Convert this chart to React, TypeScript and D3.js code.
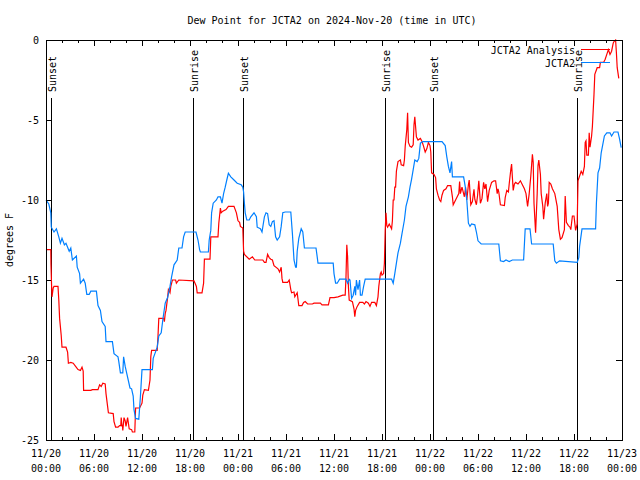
import React from "react";
import * as d3 from "d3";

const title = "Dew Point for JCTA2 on 2024-Nov-20 (time in UTC)";
const yLabel = "degrees F";
const startTime = Date.UTC(2024, 10, 20, 0, 0);
const hoursSpan = 72;
const yTicks = [0, -5, -10, -15, -20, -25];

const sunEvents: [number, string][] = [
  [0.68, "Sunset"], [18.42, "Sunrise"], [24.58, "Sunset"],
  [42.42, "Sunrise"], [48.42, "Sunset"], [66.42, "Sunrise"],
];

const seriesNames = ["JCTA2 Analysis", "JCTA2"];
const seriesColors = ["#ff0000", "#0080ff"];

const analysis: [number, number][] = [
  [0,-13.1],[0.6,-13.1],[0.62,-14.0],[0.7,-15.4],[0.75,-16.05],[0.9,-15.5],[1.0,-15.4],[1.5,-15.4],[1.6,-16.25],[1.7,-17.4],[1.9,-18.45],[2.0,-19.2],[2.5,-19.2],[2.7,-19.5],[2.8,-20.2],[3.1,-20.15],[3.4,-20.2],[3.7,-20.4],[4.0,-20.6],[4.3,-20.65],[4.5,-20.45],[4.65,-20.7],[4.7,-21.9],[5.6,-21.9],[5.8,-21.85],[6.5,-21.85],[6.7,-21.55],[6.9,-21.65],[7.1,-21.45],[7.4,-21.5],[7.5,-22.1],[7.7,-22.9],[7.8,-23.3],[8.4,-23.35],[8.5,-23.85],[8.7,-24.2],[9.0,-24.2],[9.2,-24.1],[9.35,-24.1],[9.4,-23.6],[9.5,-24.15],[9.55,-24.05],[9.6,-24.4],[9.75,-23.6],[9.9,-23.8],[10.0,-24.15],[10.2,-23.6],[10.4,-24.3],[10.7,-24.35],[10.8,-24.5],[11.1,-24.5],[11.2,-23.0],[11.7,-23.0],[12.0,-22.7],[12.1,-22.2],[12.3,-21.85],[12.8,-21.9],[13.0,-21.25],[13.1,-19.8],[13.2,-19.4],[13.9,-19.4],[14.0,-18.5],[14.1,-17.4],[14.7,-17.4],[14.8,-17.6],[14.9,-17.1],[15.0,-16.9],[15.2,-16.1],[15.3,-15.6],[15.5,-15.8],[15.6,-15.4],[15.8,-15.0],[16.2,-15.0],[16.3,-15.2],[16.6,-15.0],[18.5,-15.05],[18.8,-15.4],[18.9,-15.8],[19.5,-15.8],[19.7,-15.2],[19.8,-13.7],[20.5,-13.7],[20.6,-12.3],[21.5,-12.3],[21.6,-11.45],[21.8,-10.5],[21.9,-10.8],[22.1,-10.7],[22.5,-10.6],[22.8,-10.4],[23.5,-10.4],[23.8,-10.8],[24.0,-11.3],[24.2,-11.4],[24.3,-11.65],[24.6,-11.75],[24.7,-13.2],[24.8,-13.4],[25.4,-13.7],[25.8,-13.55],[26.1,-13.75],[27.1,-13.75],[27.3,-13.9],[27.5,-13.9],[27.7,-13.4],[27.9,-13.6],[28.1,-13.7],[28.3,-13.75],[28.5,-14.1],[29.0,-14.3],[29.2,-14.5],[29.4,-14.2],[29.5,-14.9],[29.6,-15.15],[30.2,-15.15],[30.4,-15.0],[30.6,-15.6],[30.7,-15.8],[31.0,-15.75],[31.1,-16.05],[31.4,-15.8],[31.6,-16.6],[32.0,-16.6],[32.2,-16.4],[32.4,-16.35],[32.7,-16.5],[33.3,-16.5],[33.5,-16.45],[34.3,-16.45],[34.5,-16.55],[35.3,-16.55],[35.5,-16.1],[36.0,-16.1],[36.5,-16.05],[37.1,-15.95],[37.4,-15.95],[37.5,-14.8],[37.6,-12.8],[37.7,-13.55],[37.8,-15.4],[37.9,-16.25],[38.3,-16.35],[38.5,-16.8],[38.6,-17.3],[38.7,-16.9],[38.9,-16.65],[39.2,-16.4],[39.6,-16.4],[39.8,-16.5],[40.0,-16.35],[40.3,-16.45],[40.5,-16.65],[40.7,-16.4],[41.1,-16.4],[41.3,-16.6],[41.5,-16.05],[41.6,-15.4],[41.8,-14.6],[41.9,-14.5],[42.0,-14.7],[42.2,-14.6],[42.3,-13.95],[42.4,-11.9],[42.5,-10.8],[42.6,-11.6],[42.7,-11.7],[42.9,-11.5],[43.1,-11.7],[43.2,-11.8],[43.3,-11.3],[43.4,-10.0],[43.5,-10.0],[43.6,-9.2],[43.7,-9.2],[43.8,-8.2],[44.0,-7.6],[44.3,-7.5],[44.4,-7.8],[44.7,-7.85],[44.8,-7.5],[44.9,-6.65],[45.1,-5.6],[45.2,-4.55],[45.3,-6.4],[45.5,-6.65],[45.7,-6.7],[45.9,-6.55],[46.0,-5.3],[46.1,-4.8],[46.3,-6.05],[46.5,-6.25],[46.8,-6.15],[47.0,-6.35],[47.2,-6.65],[47.4,-7.0],[47.6,-6.8],[47.8,-6.4],[48.0,-6.6],[48.1,-7.0],[48.2,-8.3],[48.5,-8.4],[48.7,-8.6],[48.8,-9.3],[49.0,-9.7],[49.2,-10.0],[49.35,-10.1],[49.5,-9.7],[49.7,-9.4],[50.0,-9.3],[50.2,-9.1],[50.6,-9.1],[50.8,-9.8],[50.9,-10.3],[51.2,-10.0],[51.4,-9.8],[51.6,-9.6],[51.7,-8.85],[51.8,-9.6],[52.0,-9.2],[52.3,-9.8],[52.45,-9.2],[52.6,-10.0],[52.8,-9.05],[52.9,-8.75],[53.1,-10.3],[53.3,-10.1],[53.5,-9.33],[53.6,-9.95],[53.8,-10.3],[53.95,-9.7],[54.1,-8.8],[54.3,-10.2],[54.5,-9.9],[54.7,-8.9],[54.85,-9.3],[55.0,-9.0],[55.2,-10.1],[55.4,-9.4],[55.7,-8.9],[56.0,-8.8],[56.2,-8.8],[56.4,-9.6],[56.5,-9.3],[56.6,-9.5],[56.8,-10.3],[57.3,-10.35],[57.4,-9.85],[57.6,-9.4],[57.8,-9.5],[57.9,-9.0],[58.1,-8.1],[58.2,-7.75],[58.3,-8.6],[58.4,-9.4],[58.55,-9.0],[58.7,-8.9],[59.0,-9.0],[59.3,-8.8],[59.5,-9.0],[59.8,-9.3],[60.0,-9.6],[60.2,-10.4],[60.4,-9.6],[60.6,-8.5],[60.8,-7.15],[60.9,-7.65],[61.0,-10.2],[61.2,-12.05],[61.3,-10.8],[61.4,-9.6],[61.5,-7.85],[61.6,-7.5],[61.8,-8.4],[61.9,-9.6],[62.1,-10.4],[62.2,-11.2],[62.4,-10.2],[62.6,-9.6],[62.7,-10.4],[62.8,-10.2],[62.9,-8.9],[63.1,-9.0],[63.3,-9.3],[63.6,-9.6],[63.9,-10.4],[64.1,-11.85],[64.3,-12.45],[64.5,-12.35],[64.8,-11.85],[64.9,-9.75],[65.05,-11.4],[65.3,-11.6],[65.5,-11.7],[65.6,-11.85],[65.8,-11.0],[66.0,-11.0],[66.2,-11.9],[66.4,-11.5],[66.5,-8.8],[66.7,-8.5],[66.9,-8.2],[67.1,-8.4],[67.3,-7.9],[67.4,-6.4],[67.5,-6.3],[67.6,-7.2],[67.8,-7.2],[67.9,-5.8],[68.0,-6.7],[68.2,-6.0],[68.3,-5.4],[68.5,-3.4],[68.6,-2.15],[68.9,-1.73],[69.2,-1.73],[69.3,-1.4],[69.7,-1.4],[69.9,-1.2],[70.1,-0.9],[70.3,-0.6],[70.5,-0.9],[70.7,-0.7],[70.9,-0.2],[71.0,-0.1],[71.2,0],[71.3,-0.8],[71.4,-1.73],[71.6,-2.4],
];

const observed: [number, number][] = [
  [0,-10.0],[0.35,-10.25],[0.6,-10.8],[0.66,-11.7],[1.0,-12.0],[1.3,-11.8],[1.6,-12.3],[1.8,-12.7],[2.0,-12.4],[2.3,-12.8],[2.5,-12.7],[2.9,-13.2],[3.1,-13.0],[3.3,-13.75],[3.8,-13.5],[3.9,-14.2],[4.2,-14.6],[4.3,-15.2],[4.7,-14.95],[4.9,-15.2],[5.1,-15.9],[5.4,-15.9],[5.6,-15.7],[6.3,-15.7],[6.5,-16.6],[6.8,-16.9],[7.0,-17.6],[7.4,-17.9],[7.5,-18.85],[8.3,-18.85],[8.5,-19.6],[9.0,-19.8],[9.1,-20.1],[9.3,-20.8],[9.6,-20.8],[9.7,-19.8],[9.9,-20.4],[10.1,-20.85],[10.5,-21.75],[10.7,-21.8],[10.9,-22.25],[11.0,-23.1],[11.2,-23.65],[11.6,-23.7],[11.8,-22.3],[12.0,-20.6],[13.3,-20.6],[13.4,-19.9],[13.9,-19.2],[14.1,-18.5],[14.4,-18.3],[14.6,-17.5],[14.9,-16.45],[15.2,-16.1],[15.5,-15.4],[15.7,-14.8],[16.0,-14.05],[16.4,-13.75],[16.6,-13.0],[17.0,-13.0],[17.2,-12.3],[17.4,-12.0],[18.75,-12.0],[19.0,-12.5],[19.2,-13.1],[19.3,-13.25],[20.3,-13.25],[20.4,-12.5],[20.6,-11.9],[20.7,-10.8],[20.9,-10.2],[21.3,-10.0],[21.5,-9.8],[21.8,-9.8],[22.0,-10.2],[22.2,-9.6],[22.4,-9.2],[22.6,-8.75],[22.8,-8.33],[23.1,-8.55],[23.5,-8.75],[23.9,-8.95],[24.4,-9.05],[24.6,-9.2],[24.7,-9.5],[24.8,-10.2],[24.9,-10.8],[25.1,-11.25],[25.4,-11.25],[25.6,-11.05],[26.0,-10.8],[26.3,-11.05],[26.4,-11.7],[26.8,-11.8],[27.0,-12.0],[27.3,-11.05],[27.5,-10.8],[27.7,-10.85],[27.9,-11.55],[28.1,-11.65],[28.3,-11.35],[28.5,-11.3],[28.7,-12.3],[28.9,-12.5],[29.2,-12.3],[29.4,-11.65],[29.6,-10.8],[29.9,-10.75],[30.6,-10.75],[30.8,-12.1],[31.0,-13.75],[31.2,-14.2],[31.3,-14.2],[31.4,-13.2],[31.6,-12.4],[31.9,-11.8],[32.1,-12.0],[32.3,-13.0],[33.75,-13.0],[33.9,-13.55],[34.0,-13.95],[35.9,-13.95],[36.0,-14.6],[36.2,-15.2],[36.4,-15.2],[36.7,-14.95],[37.5,-14.95],[37.7,-15.2],[37.9,-14.95],[38.0,-15.0],[38.2,-16.15],[38.4,-15.95],[38.6,-15.4],[38.7,-15.95],[38.8,-15.0],[39.0,-15.6],[39.2,-15.0],[39.3,-15.95],[39.5,-15.95],[39.7,-15.4],[39.9,-14.95],[43.2,-14.95],[43.4,-15.2],[43.6,-14.6],[43.8,-13.95],[44.0,-13.3],[44.3,-12.7],[44.5,-12.1],[44.8,-11.25],[45.0,-10.4],[45.3,-9.8],[45.5,-9.2],[45.7,-8.7],[45.9,-8.1],[46.1,-7.5],[46.4,-7.6],[46.6,-7.4],[46.8,-6.45],[47.1,-6.35],[49.5,-6.35],[49.9,-6.6],[50.1,-7.3],[50.3,-7.9],[50.5,-8.3],[50.7,-7.6],[50.8,-8.55],[52.2,-8.55],[52.4,-9.15],[52.6,-10.0],[52.8,-11.45],[53.0,-11.65],[53.2,-11.5],[53.6,-11.55],[53.8,-12.0],[54.0,-12.55],[54.4,-12.75],[56.6,-12.75],[56.8,-13.8],[57.2,-13.85],[57.5,-13.75],[57.9,-13.85],[58.3,-13.75],[59.7,-13.75],[59.9,-11.8],[60.5,-11.8],[60.7,-12.75],[63.4,-12.75],[63.6,-13.8],[63.8,-13.95],[64.2,-13.8],[66.4,-13.9],[66.6,-13.6],[66.7,-12.9],[67.0,-11.8],[68.7,-11.8],[68.8,-10.2],[69.0,-8.3],[69.2,-8.0],[69.4,-7.05],[69.8,-6.0],[70.1,-5.8],[70.5,-5.8],[70.7,-6.0],[71.0,-5.75],[71.5,-5.75],[71.7,-6.2],[71.9,-6.73],
];

const FONT = "'DejaVu Sans Mono', monospace";

export default function App() {
  const left = 46, right = 622, top = 40, bottom = 440;
  const x = d3.scaleUtc()
    .domain([new Date(startTime), new Date(startTime + hoursSpan * 3600e3)])
    .range([left, right]);
  const y = d3.scaleLinear().domain([-25, 0]).range([bottom, top]);
  const hx = (h: number) => x(new Date(startTime + h * 3600e3));
  const line = d3.line<[number, number]>().x((d) => hx(d[0])).y((d) => y(d[1]));
  const majorTicks = x.ticks(d3.utcHour.every(6)!);
  const minorTicks = x.ticks(d3.utcHour.every(2)!);
  const fmtDate = d3.utcFormat("%m/%d");
  const fmtTime = d3.utcFormat("%H:%M");
  const fs = 10;
  const px = (v: number) => Math.round(v) + 0.5;

  return (
    <svg width={640} height={480} style={{ position: "absolute", left: 0, top: 0, background: "#fff" }}>
      <rect x={0} y={0} width={640} height={480} fill="#fff" />
      <text x={332} y={24} fontFamily={FONT} fontSize={fs} textAnchor="middle">{title}</text>
      <text transform={`translate(13,240) rotate(-90)`} fontFamily={FONT} fontSize={fs} textAnchor="middle">{yLabel}</text>

      <g shapeRendering="crispEdges">
        {sunEvents.map(([h, label], i) => (
          <g key={"s" + i}>
            <line x1={px(hx(h))} x2={px(hx(h))} y1={98} y2={bottom} stroke="#000" strokeWidth={1} />
          </g>
        ))}
      </g>
      {sunEvents.map(([h, label], i) => (
        <text key={"sl" + i} transform={`translate(${hx(h) + 5},92) rotate(-90)`} fontFamily={FONT} fontSize={fs} textAnchor="start">{label}</text>
      ))}

      <g shapeRendering="crispEdges" stroke="#000">
        {minorTicks.map((t, i) => (
          <g key={"mt" + i}>
            <line x1={px(x(t))} x2={px(x(t))} y1={bottom} y2={bottom - 3} />
            <line x1={px(x(t))} x2={px(x(t))} y1={top} y2={top + 3} />
          </g>
        ))}
        {majorTicks.map((t, i) => (
          <g key={"Mt" + i}>
            <line x1={px(x(t))} x2={px(x(t))} y1={bottom} y2={bottom - 6} />
            <line x1={px(x(t))} x2={px(x(t))} y1={top} y2={top + 6} />
          </g>
        ))}
        {yTicks.map((v, i) => (
          <g key={"y" + i}>
            <line x1={left} x2={left + 6} y1={px(y(v))} y2={px(y(v))} />
            <line x1={right} x2={right - 6} y1={px(y(v))} y2={px(y(v))} />
          </g>
        ))}
      </g>
      {majorTicks.map((t, i) => (
        <g key={"Ml" + i}>
          <text x={x(t)} y={457} fontFamily={FONT} fontSize={fs} textAnchor="middle">{fmtDate(t)}</text>
          <text x={x(t)} y={472} fontFamily={FONT} fontSize={fs} textAnchor="middle">{fmtTime(t)}</text>
        </g>
      ))}
      {yTicks.map((v, i) => (
        <text key={"yl" + i} x={39} y={y(v) + 3.5} fontFamily={FONT} fontSize={fs} textAnchor="end">{v}</text>
      ))}

      <path d={line(analysis) || ""} fill="none" stroke={seriesColors[0]} strokeWidth={1.2} />
      <path d={line(observed) || ""} fill="none" stroke={seriesColors[1]} strokeWidth={1.2} />

      {seriesNames.map((n, i) => (
        <g key={"l" + i}>
          <text x={575} y={54 + i * 13} fontFamily={FONT} fontSize={fs} textAnchor="end">{n}</text>
          <line x1={581} x2={610} y1={49.5 + i * 13} y2={49.5 + i * 13} stroke={seriesColors[i]} strokeWidth={1.2} shapeRendering="crispEdges" />
        </g>
      ))}

      <rect x={left + 0.5} y={top + 0.5} width={right - left} height={bottom - top} fill="none" stroke="#000" strokeWidth={1} shapeRendering="crispEdges" />
    </svg>
  );
}
